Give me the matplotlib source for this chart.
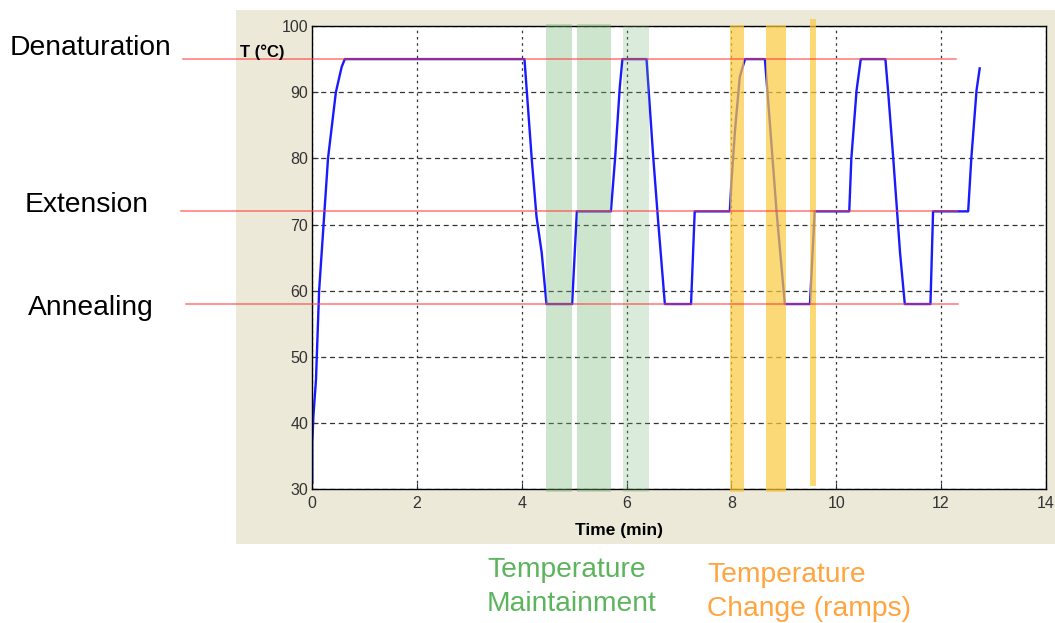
import matplotlib.pyplot as plt
from matplotlib.patches import Rectangle

plt.rcParams['font.family'] = ['Liberation Sans', 'DejaVu Sans']

# temperature trace (min, degC)
time_min = [0, 0, 0.02, 0.07, 0.13, 0.30, 0.45, 0.56, 0.62,
            4.05, 4.19, 4.28, 4.38, 4.47,
            4.96, 5.05,
            5.70, 5.78, 5.87, 5.92,
            6.38, 6.51, 6.60, 6.73,
            7.23, 7.30,
            7.97, 8.00, 8.07, 8.16, 8.26,
            8.64, 8.73, 8.86, 9.02,
            9.50, 9.59,
            10.25, 10.29, 10.39, 10.47,
            10.94, 10.99, 11.09, 11.22, 11.31,
            11.80, 11.85,
            12.52, 12.58, 12.68, 12.74]
temp_c = [31, 37, 41, 46.5, 60, 80, 90, 93.8, 95,
          95, 79.8, 71.2, 65.7, 58,
          58, 72,
          72, 80, 90.8, 95,
          95, 80, 70.7, 58,
          58, 72,
          72, 76.3, 84.3, 92.3, 95,
          95, 85.8, 72.2, 58,
          58, 72,
          72, 80, 90.3, 95,
          95, 90.3, 80, 65.7, 58,
          58, 72,
          72, 80, 90.3, 93.6]

# set points
step_names = ['Denaturation', 'Extension', 'Annealing']
step_temps = [95, 72, 58]

# highlighted intervals (min)
hold_bands = [(4.47, 4.96), (5.06, 5.70), (5.94, 6.43)]
ramp_bands = [(7.98, 8.24), (8.66, 9.04), (9.50, 9.62)]

xticks = [0, 2, 4, 6, 8, 10, 12, 14]
yticks = [30, 40, 50, 60, 70, 80, 90, 100]

W, H = 1055, 623
fig = plt.figure(figsize=(W / 100, H / 100), dpi=100)
fig.patch.set_facecolor('white')

# beige matlab figure panel
fig.patches.append(Rectangle((236 / W, 1 - 544 / H), (W - 236) / W, 534 / H,
                             transform=fig.transFigure, facecolor='#ECE9D8',
                             edgecolor='none', zorder=-5))

ax = fig.add_axes([312.3 / W, 1 - 489.4 / H, 733.4 / W, 463.4 / H])
ax.set_xlim(0, 14)
ax.set_ylim(30, 100)
ax.set_xticks(xticks)
ax.set_yticks(yticks)
ax.tick_params(direction='in', length=4, colors='#333333', labelsize=11.5,
               width=0.8)
ax.tick_params(axis='y', pad=3)
ax.tick_params(axis='x', pad=5)
for s in ax.spines.values():
    s.set_linewidth(1.0)
    s.set_color('black')
ax.xaxis.grid(True, ls=(0, (2, 3)), color='#333333', lw=0.9)
ax.yaxis.grid(True, ls=(0, (4, 3)), color='#333333', lw=0.9)
ax.set_axisbelow(True)

ax.plot(time_min, temp_c, color='#1a1aff', lw=1.7, zorder=2)

# bands
hold_alpha = [0.35, 0.35, 0.25]
hold_ext = [(-0.005, 1.004), (-0.005, 1.004), (-0.005, 1.0)]
for (a, b), al, (y0, y1) in zip(hold_bands, hold_alpha, hold_ext):
    ax.axvspan(a, b, ymin=y0, ymax=y1, color='#70b270', alpha=al, lw=0,
               zorder=3, clip_on=False)
ramp_ext = [(-0.005, 1.002), (-0.005, 1.002), (0.008, 1.015)]
for (a, b), (y0, y1) in zip(ramp_bands, ramp_ext):
    ax.axvspan(a, b, ymin=y0, ymax=y1, color='#fcc93e', alpha=0.7, lw=0,
               zorder=3, clip_on=False)

# set-point lines extending out of the axes
line_x = [(-2.47, 12.29), (-2.51, 12.31), (-2.41, 12.33)]
for t, (x0, x1) in zip(step_temps, line_x):
    ax.plot([x0, x1], [t, t], color='#ff3b3b', lw=1.1, alpha=0.7,
            zorder=4, clip_on=False)

label_pos = [(10, 48), (25, 205), (28, 308)]
for name, (px, py) in zip(step_names, label_pos):
    fig.text(px / W, 1 - py / H, name, fontsize=20.3, color='black',
             ha='left', va='center')

fig.text(240 / W, 1 - 52 / H, 'T (°C)', fontsize=12, fontweight='bold',
         ha='left', va='center')
fig.text(619 / W, 1 - 531 / H, 'Time (min)', fontsize=12.5, fontweight='bold',
         ha='center', va='center')

fig.text(487 / W, 1 - 587 / H, 'Temperature\nMaintainment', fontsize=20.3,
         color='#5cb55c', ha='left', va='center', linespacing=1.4)
fig.text(707 / W, 1 - 592 / H, 'Temperature\nChange (ramps)', fontsize=20.3,
         color='#ffa43f', ha='left', va='center', linespacing=1.4)

fig.savefig('out.png', dpi=100)
